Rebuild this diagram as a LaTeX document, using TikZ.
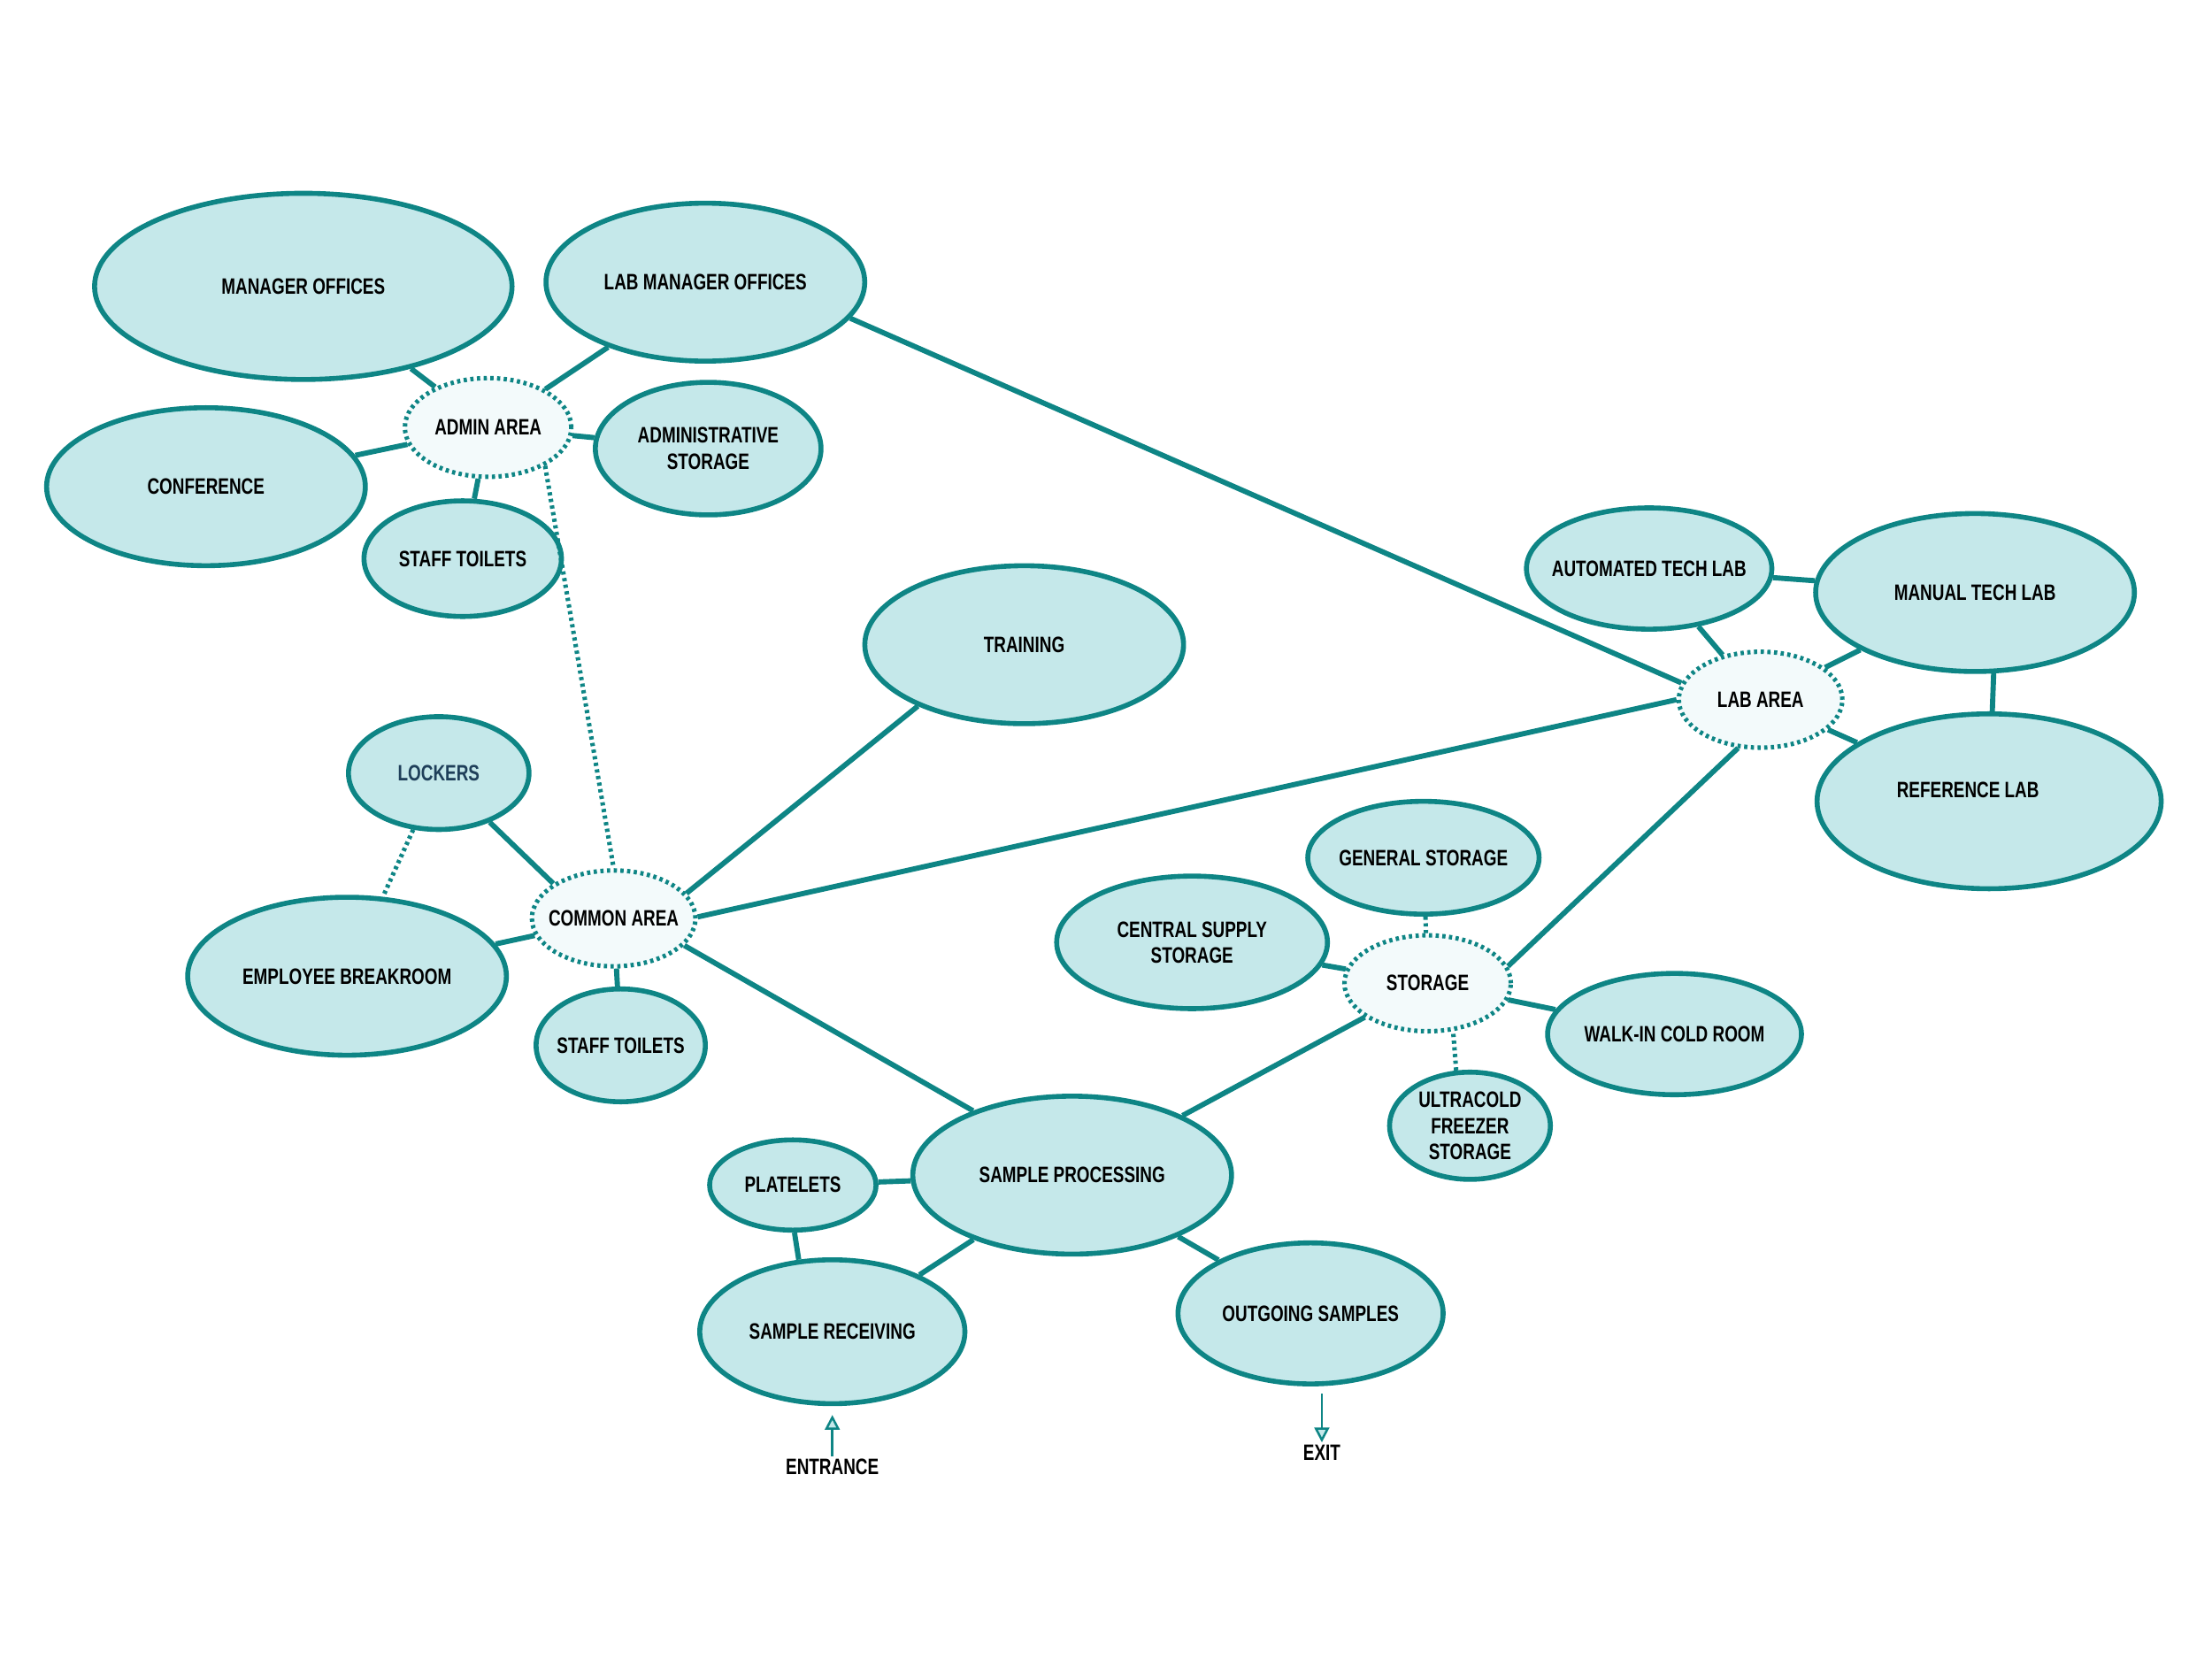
\documentclass[tikz,border=0pt]{standalone}
\usepackage{fontspec}
\setmainfont{Liberation Sans}[FakeStretch=0.75]
\usetikzlibrary{shapes.geometric,arrows.meta}
\definecolor{teal1}{HTML}{0E8585}
\definecolor{fillc}{HTML}{C5E8EA}
\definecolor{fillh}{HTML}{F3FAFB}
\definecolor{lockc}{HTML}{1F3F5A}
\tikzset{
  lbl/.style={font=\bfseries\fontsize{9}{10.5}\selectfont, text=black, inner sep=1pt, align=center},
  room/.style={ellipse, draw=teal1, fill=fillc, line width=2pt, inner sep=0pt},
  hub/.style={ellipse, draw=teal1, fill=fillh, line width=1.8pt, inner sep=0pt,
    dash pattern=on 1.3pt off 1.4pt},
  txt/.style={label={[lbl]center:#1}},
  link/.style={draw=teal1, line width=2.1pt},
  dlink/.style={draw=teal1, line width=1.8pt, dash pattern=on 1.3pt off 1.4pt},
  flow/.style={draw=teal1, line width=0.9pt, -{Triangle[length=6pt,width=6pt,fill=fillc]}}
}
\begin{document}
\begin{tikzpicture}[x=0.02cm, y=-0.02cm]
\useasboundingbox (0,0) rectangle (1568,1176);
% nodes
\node[room, minimum width=5.92cm, minimum height=2.64cm, txt={MANAGER OFFICES}] (mgr) at (215,203) {};
\node[room, minimum width=4.52cm, minimum height=2.24cm, txt={LAB MANAGER OFFICES}] (labmgr) at (500,200) {};
\node[hub, minimum width=2.36cm, minimum height=1.40cm, txt={ADMIN AREA}] (admin) at (346,303) {};
\node[room, minimum width=4.52cm, minimum height=2.24cm, txt={CONFERENCE}] (conf) at (146,345) {};
\node[room, minimum width=3.20cm, minimum height=1.88cm, txt={ADMINISTRATIVE\\STORAGE}] (adst) at (502,318) {};
\node[room, minimum width=2.80cm, minimum height=1.64cm, txt={STAFF TOILETS}] (st1) at (328,396) {};
\node[room, minimum width=4.52cm, minimum height=2.24cm, txt={TRAINING}] (train) at (726,457) {};
\node[room, minimum width=2.56cm, minimum height=1.60cm, label={[lbl, text=lockc]center:LOCKERS}] (lock) at (311,548) {};
\node[hub, minimum width=2.32cm, minimum height=1.36cm, txt={COMMON AREA}] (common) at (435,651) {};
\node[room, minimum width=4.52cm, minimum height=2.24cm, txt={EMPLOYEE BREAKROOM}] (break) at (246,692) {};
\node[room, minimum width=2.40cm, minimum height=1.60cm, txt={STAFF TOILETS}] (st2) at (440,741) {};
\node[room, minimum width=3.48cm, minimum height=1.72cm, txt={AUTOMATED TECH LAB}] (auto) at (1169,403) {};
\node[room, minimum width=4.52cm, minimum height=2.24cm, txt={MANUAL TECH LAB}] (manual) at (1400,420) {};
\node[hub, minimum width=2.32cm, minimum height=1.36cm, txt={LAB AREA}] (lab) at (1248,496) {};
\node[room, minimum width=4.88cm, minimum height=2.48cm] (ref) at (1410,568) {};
\node[lbl] (reftext) at (1395,560) {REFERENCE LAB};
\node[room, minimum width=3.28cm, minimum height=1.60cm, txt={GENERAL STORAGE}] (gen) at (1009,608) {};
\node[room, minimum width=3.84cm, minimum height=1.88cm, txt={CENTRAL SUPPLY\\STORAGE}] (central) at (845,668) {};
\node[hub, minimum width=2.36cm, minimum height=1.36cm, txt={STORAGE}] (stor) at (1012,697) {};
\node[room, minimum width=3.60cm, minimum height=1.72cm, txt={WALK-IN COLD ROOM}] (walk) at (1187,733) {};
\node[room, minimum width=2.28cm, minimum height=1.52cm, txt={ULTRACOLD\\FREEZER\\STORAGE}] (ultra) at (1042,798) {};
\node[room, minimum width=4.52cm, minimum height=2.24cm, txt={SAMPLE PROCESSING}] (proc) at (760,833) {};
\node[room, minimum width=2.36cm, minimum height=1.28cm, txt={PLATELETS}] (plate) at (562,840) {};
\node[room, minimum width=3.76cm, minimum height=2.04cm, txt={SAMPLE RECEIVING}] (recv) at (590,944) {};
\node[room, minimum width=3.76cm, minimum height=2.00cm, txt={OUTGOING SAMPLES}] (out) at (929,931) {};
\node[lbl] (entr) at (590,1040) {ENTRANCE};
\node[lbl] (exit) at (937,1030) {EXIT};
\coordinate (entrtop) at (590,1003);
\coordinate (exittop) at (937,988);
% connectors
\draw[link] (mgr) -- (admin);
\draw[link] (labmgr) -- (admin);
\draw[link] (conf) -- (admin);
\draw[link] (adst) -- (admin);
\draw[link] (st1) -- (admin);
\draw[dlink] (admin.-34) -- (common.90);
\draw[link] (labmgr.-14) -- (lab.168);
\draw[link] (lock) -- (common.150);
\draw[dlink] (lock) -- (break);
\draw[link] (break) -- (common);
\draw[link] (st2) -- (common);
\draw[link] (train.-150) -- (common.19);
\draw[link] (common.1) -- (lab.180);
\draw[link] (common.-21) -- (proc.147);
\draw[link] (auto) -- (lab);
\draw[link] (auto) -- (manual);
\draw[link] (manual) -- (lab);
\draw[link] (manual.-77) -- (ref.88);
\draw[link] (ref) -- (lab);
\draw[link] (lab.-115) -- (stor.12);
\draw[dlink] (gen) -- (stor);
\draw[link] (central) -- (stor);
\draw[link] (walk) -- (stor);
\draw[dlink] (ultra.104) -- (stor.-62);
\draw[link] (stor) -- (proc);
\draw[link] (plate) -- (proc);
\draw[link] (plate.-88) -- (recv.115);
\draw[link] (recv) -- (proc);
\draw[link] (out) -- (proc);
\draw[flow] (entr.north) -- (entrtop);
\draw[flow] (exittop) -- (exit.north);
\end{tikzpicture}
\end{document}
